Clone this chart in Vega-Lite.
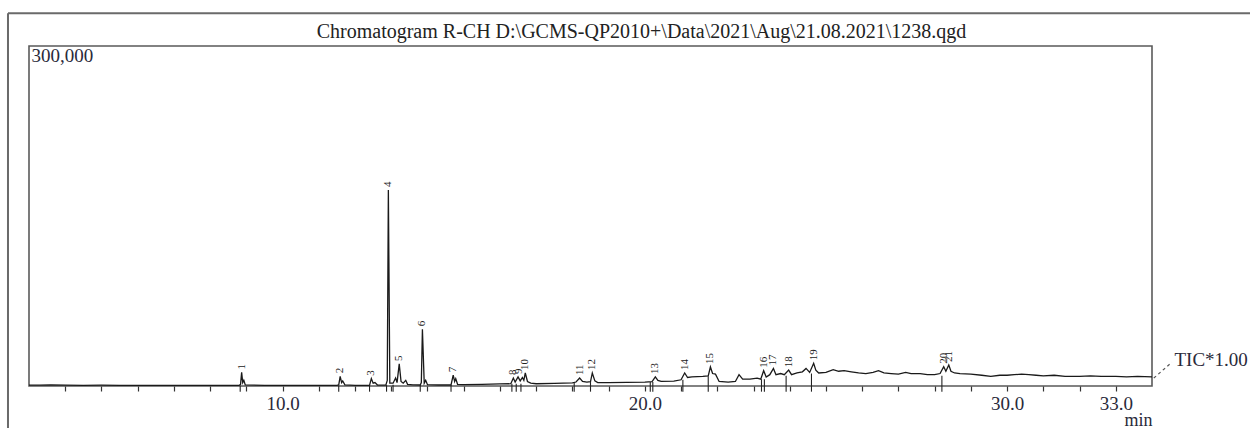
{
  "$schema": "https://vega.github.io/schema/vega-lite/v6.json",
  "autosize": "none",
  "width": 1123,
  "height": 340,
  "padding": {"left": 29, "top": 46, "right": 98, "bottom": 42},
  "background": "white",
  "config": {
    "view": {"stroke": "#5a5a5a", "strokeWidth": 1.6}
  },
  "title": {
    "text": "Chromatogram R-CH D:\\GCMS-QP2010+\\Data\\2021\\Aug\\21.08.2021\\1238.qgd",
    "font": "Liberation Serif",
    "fontSize": 20,
    "fontWeight": "normal",
    "color": "#222",
    "frame": "group",
    "dx": 51,
    "baseline": "alphabetic",
    "offset": -46
  },
  "encoding": {
    "x": {
      "field": "t", "type": "quantitative",
      "scale": {"domain": [3, 34], "nice": false, "zero": false},
      "axis": {
        "values": [4,5,6,7,8,9,10,11,12,13,14,15,16,17,18,19,20,21,22,23,24,25,26,27,28,29,30,31,32,33],
        "labelExpr": "datum.value % 10 === 0 || datum.value === 33 ? format(datum.value, '.1f') : ''",
        "domain": false,
        "grid": false,
        "tickColor": "#333",
        "tickSize": 5,
        "tickWidth": 1.2,
        "labelFont": "Liberation Serif",
        "labelFontSize": 19,
        "labelColor": "#2a2a3a",
        "labelPadding": 3,
        "title": "min",
        "titleFont": "Liberation Serif",
        "titleFontSize": 18,
        "titleFontWeight": "normal",
        "titleColor": "#2a2a3a",
        "titleAnchor": "end",
        "titlePadding": -2
      }
    },
    "y": {
      "field": "i", "type": "quantitative",
      "scale": {"domain": [0, 300000], "nice": false},
      "axis": null
    }
  },
  "layer": [
    {
      "data": {"values": [
        {"t":2.42,"i":329000,"t2":2.42,"i2":-40000},
        {"t":2.42,"i":329000,"t2":36.8,"i2":329000}
      ]},
      "mark": {"type": "rule", "color": "#6a6a6a", "strokeWidth": 2, "clip": false},
      "encoding": {"x2": {"field": "t2"}, "y2": {"field": "i2"}}
    },
    {
      "data": {"values": [
        {"t":3.0,"i":800},{"t":3.3,"i":700},{"t":3.6,"i":900},{"t":4.0,"i":700},{"t":4.5,"i":600},{"t":5.0,"i":700},{"t":5.5,"i":600},{"t":6.0,"i":500},{"t":6.5,"i":600},{"t":7.0,"i":500},{"t":7.5,"i":500},{"t":8.0,"i":500},{"t":8.5,"i":500},{"t":8.8,"i":500},{"t":8.84,"i":1500},{"t":8.87,"i":12000},{"t":8.9,"i":3000},{"t":8.93,"i":5000},{"t":8.97,"i":1000},{"t":9.5,"i":500},{"t":10.0,"i":500},{"t":10.5,"i":600},{"t":11.0,"i":500},{"t":11.5,"i":500},{"t":11.55,"i":900},{"t":11.59,"i":8500},{"t":11.63,"i":3000},{"t":11.66,"i":4500},{"t":11.72,"i":1000},{"t":12.0,"i":600},{"t":12.4,"i":600},{"t":12.45,"i":6500},{"t":12.5,"i":2500},{"t":12.55,"i":3000},{"t":12.62,"i":900},{"t":12.85,"i":800},{"t":12.89,"i":5000},{"t":12.92,"i":173000},{"t":12.96,"i":2500},{"t":13.05,"i":2500},{"t":13.12,"i":7000},{"t":13.16,"i":3000},{"t":13.22,"i":19500},{"t":13.27,"i":4000},{"t":13.33,"i":2500},{"t":13.4,"i":5000},{"t":13.45,"i":1500},{"t":13.6,"i":1000},{"t":13.8,"i":900},{"t":13.83,"i":3000},{"t":13.86,"i":50000},{"t":13.91,"i":2500},{"t":13.95,"i":5000},{"t":14.0,"i":1200},{"t":14.3,"i":900},{"t":14.65,"i":900},{"t":14.71,"i":9500},{"t":14.75,"i":4000},{"t":14.78,"i":6500},{"t":14.83,"i":1500},{"t":15.0,"i":1200},{"t":15.5,"i":1500},{"t":16.0,"i":1800},{"t":16.3,"i":2000},{"t":16.37,"i":7000},{"t":16.42,"i":3500},{"t":16.5,"i":8000},{"t":16.56,"i":4500},{"t":16.62,"i":7500},{"t":16.66,"i":5000},{"t":16.7,"i":11500},{"t":16.76,"i":4000},{"t":16.85,"i":2500},{"t":17.0,"i":2000},{"t":17.5,"i":2300},{"t":18.0,"i":2800},{"t":18.1,"i":3500},{"t":18.2,"i":7000},{"t":18.28,"i":4000},{"t":18.4,"i":3500},{"t":18.5,"i":3800},{"t":18.55,"i":11500},{"t":18.62,"i":4500},{"t":18.7,"i":3000},{"t":19.0,"i":3000},{"t":19.5,"i":3200},{"t":20.0,"i":3500},{"t":20.2,"i":3800},{"t":20.29,"i":8000},{"t":20.36,"i":5000},{"t":20.45,"i":4000},{"t":20.8,"i":4300},{"t":21.0,"i":5500},{"t":21.1,"i":11500},{"t":21.18,"i":7500},{"t":21.3,"i":8000},{"t":21.6,"i":8500},{"t":21.75,"i":9000},{"t":21.81,"i":16800},{"t":21.87,"i":11000},{"t":21.95,"i":10500},{"t":22.05,"i":4000},{"t":22.3,"i":3500},{"t":22.5,"i":4000},{"t":22.6,"i":10000},{"t":22.7,"i":6000},{"t":22.9,"i":6000},{"t":23.1,"i":7000},{"t":23.2,"i":6000},{"t":23.28,"i":13500},{"t":23.35,"i":8000},{"t":23.45,"i":10000},{"t":23.55,"i":15500},{"t":23.62,"i":10000},{"t":23.75,"i":11000},{"t":23.85,"i":10000},{"t":23.97,"i":14000},{"t":24.05,"i":10000},{"t":24.2,"i":11500},{"t":24.35,"i":12500},{"t":24.45,"i":15500},{"t":24.55,"i":12000},{"t":24.66,"i":20000},{"t":24.72,"i":14000},{"t":24.8,"i":11500},{"t":25.0,"i":12000},{"t":25.2,"i":14500},{"t":25.35,"i":13000},{"t":25.5,"i":13500},{"t":25.7,"i":12500},{"t":25.9,"i":11500},{"t":26.1,"i":11000},{"t":26.3,"i":12000},{"t":26.45,"i":13500},{"t":26.6,"i":11500},{"t":26.8,"i":11000},{"t":27.0,"i":10500},{"t":27.2,"i":12000},{"t":27.35,"i":11000},{"t":27.6,"i":11000},{"t":27.8,"i":10000},{"t":28.0,"i":10000},{"t":28.15,"i":11000},{"t":28.25,"i":17000},{"t":28.31,"i":13000},{"t":28.39,"i":18500},{"t":28.45,"i":13000},{"t":28.55,"i":11500},{"t":28.7,"i":11000},{"t":29.0,"i":10500},{"t":29.3,"i":9500},{"t":29.55,"i":8500},{"t":29.8,"i":9500},{"t":30.0,"i":9500},{"t":30.2,"i":10000},{"t":30.4,"i":10500},{"t":30.6,"i":10000},{"t":30.8,"i":9500},{"t":31.0,"i":9000},{"t":31.3,"i":9500},{"t":31.6,"i":8500},{"t":32.0,"i":8500},{"t":32.3,"i":9000},{"t":32.6,"i":8500},{"t":33.0,"i":8500},{"t":33.3,"i":8000},{"t":33.6,"i":8500},{"t":34.0,"i":8000}
      ]},
      "mark": {"type": "line", "color": "#1a1a1a", "strokeWidth": 1.3},
      "encoding": {}
    },
    {
      "data": {"values": [
        {"t":8.83,"i":500,"b":-5000},{"t":11.55,"i":500,"b":-5000},{"t":12.4,"i":600,"b":-5000},{"t":12.87,"i":800,"b":-5000},{"t":13.05,"i":1000,"b":-5000},{"t":13.8,"i":900,"b":-5000},{"t":14.65,"i":900,"b":-5000},{"t":16.33,"i":2000,"b":-5000},{"t":16.45,"i":2000,"b":-5000},{"t":16.58,"i":2000,"b":-5000},{"t":18.05,"i":2800,"b":-5000},{"t":18.5,"i":3500,"b":-5000},{"t":20.15,"i":3500,"b":-5000},{"t":20.22,"i":3500,"b":-5000},{"t":21.05,"i":5500,"b":-5000},{"t":21.75,"i":8500,"b":-5000},{"t":23.22,"i":6000,"b":-5000},{"t":23.3,"i":6000,"b":-5000},{"t":23.9,"i":9000,"b":-5000},{"t":24.6,"i":11000,"b":-5000},{"t":28.2,"i":9000,"b":-5000}
      ]},
      "mark": {"type": "rule", "color": "#222", "strokeWidth": 1.1},
      "encoding": {"y2": {"field": "b"}}
    },
    {
      "data": {"values": [
        {"n":"1","t":8.87,"i":12000},{"n":"2","t":11.59,"i":8500},{"n":"3","t":12.45,"i":6500},{"n":"4","t":12.92,"i":173000},{"n":"5","t":13.22,"i":19500},{"n":"6","t":13.86,"i":50000},{"n":"7","t":14.71,"i":9500},{"n":"8","t":16.37,"i":7000},{"n":"9","t":16.52,"i":8000},{"n":"10","t":16.7,"i":11500},{"n":"11","t":18.2,"i":7000},{"n":"12","t":18.55,"i":11500},{"n":"13","t":20.29,"i":8000},{"n":"14","t":21.1,"i":11500},{"n":"15","t":21.81,"i":16800},{"n":"16","t":23.28,"i":13500},{"n":"17","t":23.55,"i":15500},{"n":"18","t":23.97,"i":14000},{"n":"19","t":24.66,"i":20000},{"n":"20","t":28.25,"i":17000},{"n":"21","t":28.39,"i":18500}
      ]},
      "mark": {"type": "text", "angle": 270, "align": "left", "baseline": "middle", "dx": 3, "fontSize": 11, "font": "Liberation Serif", "color": "#222"},
      "encoding": {"text": {"field": "n"}}
    },
    {
      "data": {"values": [
        {"t":34.05,"i":7000,"t2":34.55,"i2":21000}
      ]},
      "mark": {"type": "rule", "color": "#555", "strokeWidth": 1.2, "strokeDash": [3, 3]},
      "encoding": {"x2": {"field": "t2"}, "y2": {"field": "i2"}}
    },
    {
      "data": {"values": [
        {"label":"300,000","t":3.07,"i":299000},
        {"label":"TIC*1.00","t":34.62,"i":30500}
      ]},
      "mark": {"type": "text", "align": "left", "baseline": "top", "fontSize": 19, "font": "Liberation Serif", "color": "#2a2a3a"},
      "encoding": {"text": {"field": "label"}}
    }
  ]
}
